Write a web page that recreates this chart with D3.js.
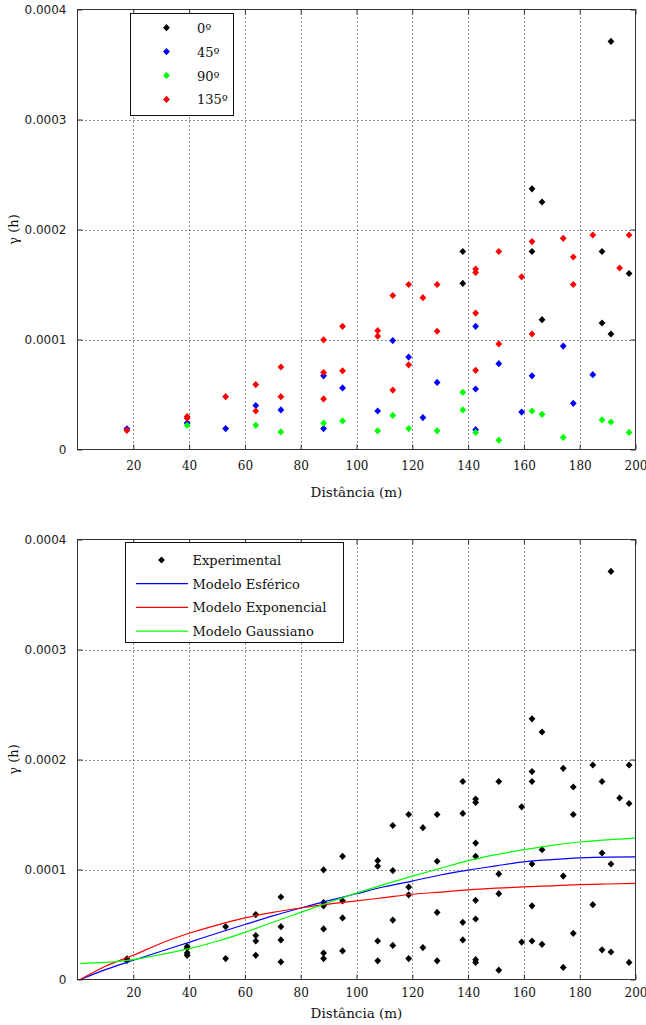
<!DOCTYPE html>
<html><head><meta charset="utf-8">
<script src="https://cdn.jsdelivr.net/npm/d3@7"></script>
<style>body{margin:0;background:#fff}svg{display:block}</style>
</head><body><svg id="c" width="646" height="1025"></svg>
<script>
// ---------- data ----------
const xTicks = [20, 40, 60, 80, 100, 120, 140, 160, 180, 200];
const yTicks = [0, 0.0001, 0.0002, 0.0003, 0.0004];
const yTickLabels = ["0", "0.0001", "0.0002", "0.0003", "0.0004"];
const legendTop = ["0º", "45º", "90º", "135º"];
const legendBottom = ["Experimental", "Modelo Esférico", "Modelo Exponencial", "Modelo Gaussiano"];

const dir0 = [[138.1,1.80e-4],[138.1,1.51e-4],[162.9,2.37e-4],[162.9,1.80e-4],[166.5,2.25e-4],[166.5,1.18e-4],
  [188.0,1.80e-4],[188.0,1.15e-4],[191.2,3.71e-4],[191.2,1.05e-4],[197.7,1.60e-4]];
const dir45 = [[17.7,1.88e-5],[39.3,2.4e-5],[53.1,1.9e-5],[63.9,4.0e-5],[72.9,3.6e-5],[88.2,6.7e-5],[88.2,1.9e-5],
  [95.0,5.6e-5],[107.6,3.5e-5],[113.0,9.9e-5],[118.7,8.4e-5],[123.8,2.9e-5],[128.9,6.1e-5],[142.7,1.12e-4],
  [142.7,5.5e-5],[142.7,1.8e-5],[151.0,7.8e-5],[159.2,3.4e-5],[162.9,6.7e-5],[174.1,9.4e-5],[177.7,4.2e-5],[184.7,6.8e-5]];
const dir90 = [[39.3,2.2e-5],[63.9,2.2e-5],[72.9,1.6e-5],[88.2,2.4e-5],[95.0,2.6e-5],[107.6,1.7e-5],[113.0,3.1e-5],
  [118.7,1.9e-5],[128.9,1.7e-5],[138.1,5.2e-5],[138.1,3.6e-5],[142.7,1.55e-5],[151.0,8.5e-6],[162.9,3.5e-5],
  [166.5,3.2e-5],[174.1,1.1e-5],[188.0,2.7e-5],[191.2,2.5e-5],[197.7,1.55e-5]];
const dir135 = [[17.7,1.73e-5],[39.3,3.0e-5],[39.3,2.85e-5],[53.1,4.8e-5],[63.9,5.9e-5],[63.9,3.5e-5],[72.9,7.5e-5],
  [72.9,4.8e-5],[88.2,9.97e-5],[88.2,7.0e-5],[88.2,4.6e-5],[95.0,1.12e-4],[95.0,7.15e-5],[107.6,1.08e-4],[107.6,1.03e-4],
  [113.0,1.40e-4],[113.0,5.4e-5],[118.7,1.50e-4],[118.7,7.7e-5],[123.8,1.38e-4],[128.9,1.50e-4],[128.9,1.075e-4],
  [142.7,1.64e-4],[142.7,1.61e-4],[142.7,1.24e-4],[142.7,7.2e-5],[151.0,1.80e-4],[151.0,9.6e-5],[159.2,1.57e-4],
  [162.9,1.89e-4],[162.9,1.05e-4],[174.1,1.92e-4],[177.7,1.75e-4],[177.7,1.50e-4],[184.7,1.95e-4],[194.3,1.65e-4],[197.7,1.95e-4]];

const modelX = [1, 10, 20, 30, 40, 50, 60, 70, 80, 90, 100, 110, 120, 130, 140, 150, 160, 170, 180, 190, 200];
const esferico = [0, 0.9e-5, 1.75e-5, 2.57e-5, 3.38e-5, 4.2e-5, 5.0e-5, 5.78e-5, 6.5e-5, 7.17e-5, 7.8e-5, 8.43e-5,
  8.95e-5, 9.5e-5, 9.95e-5, 10.33e-5, 10.7e-5, 10.9e-5, 11.05e-5, 11.13e-5, 11.15e-5];
const exponencial = [0, 1.2e-5, 2.2e-5, 3.3e-5, 4.2e-5, 4.95e-5, 5.6e-5, 6.1e-5, 6.5e-5, 6.85e-5, 7.15e-5, 7.45e-5,
  7.75e-5, 7.95e-5, 8.15e-5, 8.3e-5, 8.42e-5, 8.52e-5, 8.62e-5, 8.68e-5, 8.73e-5];
const gaussiano = [1.45e-5, 1.55e-5, 1.8e-5, 2.27e-5, 2.8e-5, 3.48e-5, 4.29e-5, 5.2e-5, 6.1e-5, 7.0e-5, 7.85e-5, 8.65e-5,
  9.4e-5, 10.1e-5, 10.8e-5, 11.35e-5, 11.8e-5, 12.2e-5, 12.5e-5, 12.7e-5, 12.85e-5];

// ---------- drawing ----------
const svg = d3.select("#c");
svg.append("rect").attr("width", 646).attr("height", 1025).attr("fill", "#fff");

const X0 = 77.5, X1 = 635.5;
const SERIF = "'DejaVu Serif', serif", SANS = "'DejaVu Sans', sans-serif";
const diamond = "M0,-3.6L3.4,0L0,3.6L-3.4,0Z";

function panel(top, bottom, id, tickPad, labelOff) {
  const g = svg.append("g");
  const x = d3.scaleLinear().domain([0, 200]).range([X0, X1]);
  const y = d3.scaleLinear().domain([0, 0.0004]).range([bottom, top]);
  // grid
  const grid = g.append("g").attr("stroke", "#222").attr("stroke-width", 1).attr("stroke-dasharray", "1,3");
  grid.selectAll(".vg").data(xTicks.slice(0, -1)).join("line")
    .attr("x1", d => Math.round(x(d)) + 0.5).attr("x2", d => Math.round(x(d)) + 0.5)
    .attr("y1", top).attr("y2", bottom);
  grid.selectAll(".hg").data(yTicks.slice(1, -1)).join("line")
    .attr("y1", d => Math.round(y(d)) + 0.5).attr("y2", d => Math.round(y(d)) + 0.5)
    .attr("x1", X0).attr("x2", X1);
  // axes with inward ticks
  const ax = d3.axisBottom(x).tickValues(xTicks).tickSize(-5).tickPadding(tickPad).tickFormat(d3.format("d"));
  const axT = d3.axisTop(x).tickValues(xTicks).tickSize(-5).tickFormat("");
  const ay = d3.axisLeft(y).tickValues(yTicks).tickSize(-5).tickPadding(11).tickFormat((d, i) => yTickLabels[i]);
  const ayR = d3.axisRight(y).tickValues(yTicks).tickSize(-5).tickFormat("");
  const gx = g.append("g").attr("transform", `translate(0,${bottom})`).call(ax);
  gx.selectAll("text").attr("font-family", SERIF).attr("font-size", 12).attr("fill", "#111");
  g.append("g").attr("transform", `translate(0,${top})`).call(axT);
  const gy = g.append("g").attr("transform", `translate(${X0},0)`).call(ay);
  gy.selectAll("text").attr("font-family", SANS).attr("font-size", 12).attr("fill", "#222");
  g.append("g").attr("transform", `translate(${X1},0)`).call(ayR);
  g.selectAll(".domain").remove();
  g.selectAll(".tick line").attr("stroke", "#333");
  g.append("rect").attr("x", X0).attr("y", top).attr("width", X1 - X0).attr("height", bottom - top)
    .attr("fill", "none").attr("stroke", "#333").attr("stroke-width", 1);
  // labels
  g.append("text").attr("x", (X0 + X1) / 2).attr("y", bottom + labelOff).attr("text-anchor", "middle")
    .attr("font-family", SERIF).attr("font-size", 13.5).attr("fill", "#111").text("Distância (m)");
  g.append("text").attr("transform", `translate(18,${(top + bottom) / 2}) rotate(-90)`).attr("text-anchor", "middle")
    .attr("font-family", SERIF).attr("font-size", 13).attr("fill", "#111").text("γ (h)");
  // clip
  svg.append("clipPath").attr("id", id).append("rect").attr("x", X0).attr("y", top).attr("width", X1 - X0).attr("height", bottom - top);
  return {g, x, y};
}

// ---- top chart ----
const P1 = panel(9.5, 449.5, "clip1", 12, 47);
const series = [[dir0, "#000000"], [dir45, "#0000ff"], [dir90, "#00ff00"], [dir135, "#ff0000"]];
series.forEach(([data, col]) => {
  P1.g.append("g").selectAll("path").data(data).join("path")
    .attr("d", diamond).attr("fill", col)
    .attr("transform", d => `translate(${P1.x(d[0])},${P1.y(d[1])})`);
});
// legend top
const L1 = P1.g.append("g");
L1.append("rect").attr("x", 130.5).attr("y", 13.5).attr("width", 103).attr("height", 102)
  .attr("fill", "#fff").attr("stroke", "#111");
legendTop.forEach((t, i) => {
  const yy = 27.7 + i * 23.9;
  L1.append("path").attr("d", diamond).attr("fill", series[i][1]).attr("transform", `translate(166.5,${yy})`);
  L1.append("text").attr("x", 197).attr("y", yy + 5).attr("font-family", SERIF).attr("font-size", 13)
    .attr("fill", "#111").text(t);
});

// ---- bottom chart ----
const P2 = panel(539.5, 979.5, "clip2", 9, 38);
const allPts = dir0.concat(dir45, dir90, dir135);
P2.g.append("g").selectAll("path").data(allPts).join("path")
  .attr("d", diamond).attr("fill", "#000")
  .attr("transform", d => `translate(${P2.x(d[0])},${P2.y(d[1])})`);
const models = [[esferico, "#0000ff"], [exponencial, "#ff0000"], [gaussiano, "#00ff00"]];
const line = d3.line().x((d, i) => P2.x(modelX[i])).y(d => P2.y(d)).curve(d3.curveMonotoneX);
models.forEach(([vals, col]) => {
  P2.g.append("path").datum(vals).attr("d", line).attr("fill", "none").attr("stroke", col)
    .attr("stroke-width", 1.2).attr("clip-path", "url(#clip2)");
});
// legend bottom
const L2 = P2.g.append("g");
L2.append("rect").attr("x", 125.5).attr("y", 542.5).attr("width", 218).attr("height", 100)
  .attr("fill", "#fff").attr("stroke", "#111");
legendBottom.forEach((t, i) => {
  const yy = 560 + i * 23.7;
  if (i === 0) {
    L2.append("path").attr("d", diamond).attr("fill", "#000").attr("transform", `translate(161.5,${yy})`);
  } else {
    L2.append("line").attr("x1", 136).attr("x2", 188).attr("y1", yy).attr("y2", yy)
      .attr("stroke", models[i - 1][1]).attr("stroke-width", 1.2);
  }
  L2.append("text").attr("x", 192.5).attr("y", yy + 5).attr("font-family", SERIF).attr("font-size", 13)
    .attr("fill", "#111").text(t);
});
</script></body></html>
